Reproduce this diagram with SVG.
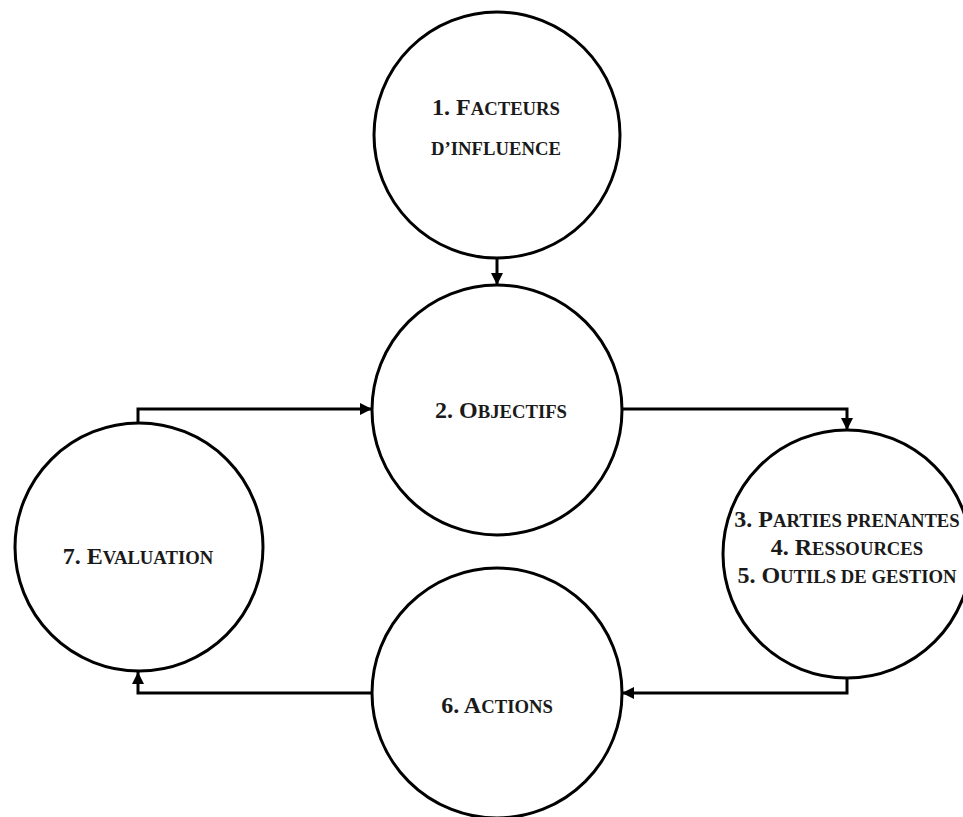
<svg xmlns="http://www.w3.org/2000/svg" width="963" height="817" viewBox="0 0 963 817">
<style>
.node{fill:#fff;stroke:#000;stroke-width:3}
.lbl{font-family:"Liberation Serif","Times New Roman",serif;font-weight:bold;font-size:24px;fill:#1a1a1a;text-anchor:middle}
.sc{font-size:18.7px}
.conn{fill:none;stroke:#000;stroke-width:3}
</style>
<defs>
<marker id="arr" viewBox="0 0 12 12" refX="12" refY="6" markerWidth="12" markerHeight="12" markerUnits="userSpaceOnUse" orient="auto">
<path d="M0,0 L12,6 L0,12 z" fill="#000"/>
</marker>
</defs>
<rect width="963" height="817" fill="#fff"/>
<g id="connectors">
<path class="conn" d="M497,258 V285" marker-end="url(#arr)"/>
<path class="conn" d="M622,409 H847 V430" marker-end="url(#arr)"/>
<path class="conn" d="M847,679 V693 H622" marker-end="url(#arr)"/>
<path class="conn" d="M372,693 H138 V672" marker-end="url(#arr)"/>
<path class="conn" d="M138,423 V409 H372" marker-end="url(#arr)"/>
</g>
<g id="n1">
<circle class="node" cx="497" cy="135" r="123"/>
<text class="lbl" x="496" y="115">1. F<tspan class="sc">ACTEURS</tspan></text>
<text class="lbl" x="496" y="155"><tspan class="sc">D’INFLUENCE</tspan></text>
</g>
<g id="n2">
<circle class="node" cx="497" cy="410" r="125"/>
<text class="lbl" x="501" y="418">2. O<tspan class="sc">BJECTIFS</tspan></text>
</g>
<g id="n3">
<circle class="node" cx="847" cy="554" r="124"/>
<text class="lbl" x="847" y="527">3. P<tspan class="sc">ARTIES PRENANTES</tspan></text>
<text class="lbl" x="847" y="555">4. R<tspan class="sc">ESSOURCES</tspan></text>
<text class="lbl" x="847" y="583">5. O<tspan class="sc">UTILS DE GESTION</tspan></text>
</g>
<g id="n6">
<circle class="node" cx="497" cy="693" r="125"/>
<text class="lbl" x="497" y="713">6. A<tspan class="sc">CTIONS</tspan></text>
</g>
<g id="n7">
<circle class="node" cx="139" cy="547" r="124"/>
<text class="lbl" x="138" y="564">7. E<tspan class="sc">VALUATION</tspan></text>
</g>
</svg>
